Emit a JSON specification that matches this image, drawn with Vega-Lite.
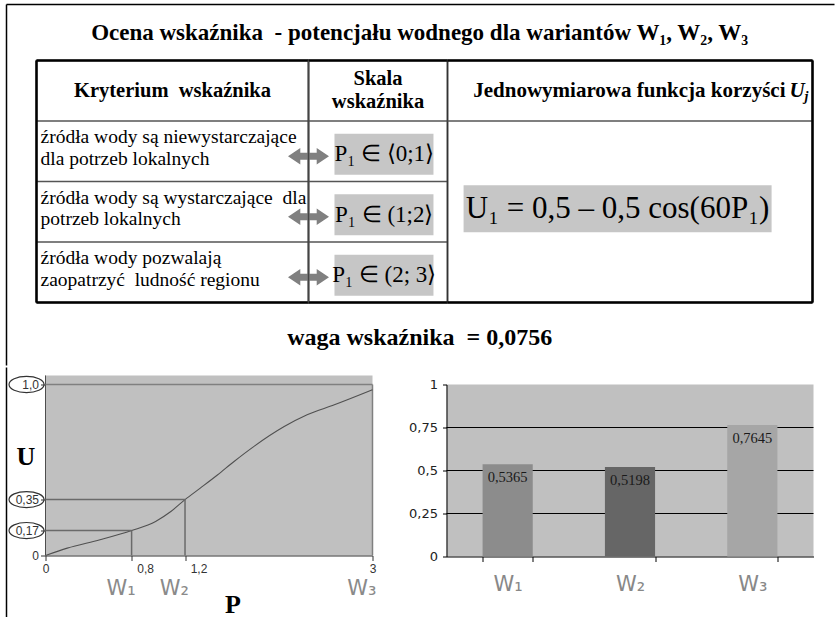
{
  "$schema": "https://vega.github.io/schema/vega-lite/v6.json",
  "padding": {"left": 5.5, "top": 3.5, "right": 0, "bottom": 0},
  "background": "white",
  "spacing": 0,
  "resolve": {"scale": {"x": "independent", "y": "independent", "color": "independent"}},
  "config": {
    "view": {"stroke": null},
    "locale": {"number": {"decimal": ",", "thousands": " ", "grouping": [3], "currency": ["", " zł"]}},
    "text": {"font": "Liberation Serif", "color": "#000"}
  },
  "datasets": {
    "table": [
      {"col": 1, "row": "h", "text": "Kryterium\u00a0 wskaźnika"},
      {"col": 1, "row": "r1", "text": "źródła wody są niewystarczające\ndla potrzeb lokalnych"},
      {"col": 1, "row": "r2", "text": "źródła wody są wystarczające\u00a0 dla\npotrzeb lokalnych"},
      {"col": 1, "row": "r3", "text": "źródła wody pozwalają\nzaopatrzyć\u00a0 ludność regionu"},
      {"col": 2, "row": "h", "text": "Skala\nwskaźnika"},
      {"col": 2, "row": "r1", "text": "P₁ ∈ ⟨0;1⟩"},
      {"col": 2, "row": "r2", "text": "P₁ ∈ (1;2⟩"},
      {"col": 2, "row": "r3", "text": "P₁ ∈ (2; 3⟩"},
      {"col": 3, "row": "h", "text": "Jednowymiarowa funkcja korzyści"},
      {"col": 3, "row": "r2", "text": "U₁ = 0,5 – 0,5 cos(60P₁)"}
    ],
    "curve": [
      {"p": 0, "u": 0}, {"p": 0.2, "u": 0.043}, {"p": 0.5, "u": 0.092}, {"p": 0.79, "u": 0.146},
      {"p": 1.01, "u": 0.199}, {"p": 1.15, "u": 0.257}, {"p": 1.28, "u": 0.327}, {"p": 1.42, "u": 0.394},
      {"p": 1.58, "u": 0.472}, {"p": 1.73, "u": 0.55}, {"p": 1.91, "u": 0.637}, {"p": 2.19, "u": 0.754},
      {"p": 2.4, "u": 0.823}, {"p": 2.65, "u": 0.881}, {"p": 3, "u": 0.969}
    ],
    "guides": [{"p": 0.79, "u": 0.146, "label": "0,8"}, {"p": 1.28, "u": 0.327, "label": "1,2"}],
    "ellipses": [{"u": 0.146}, {"u": 0.327}, {"u": 1}],
    "wlabels": [{"w": "W₁", "p": 0.79}, {"w": "W₂", "p": 1.28}, {"w": "W₃", "p": 3}],
    "bars": [{"w": "W₁", "u": 0.5365}, {"w": "W₂", "u": 0.5198}, {"w": "W₃", "u": 0.7645}],
    "gridvals": [{"v": 0.25}, {"v": 0.5}, {"v": 0.75}]
  },
  "vconcat": [
    {
      "spacing": 0,
      "bounds": "flush",
      "resolve": {"scale": {"x": "independent", "y": "independent"}},
      "hconcat": [
        {
          "width": 30, "height": 242,
          "data": {"values": [{}]},
          "layer": [
            {"mark": {"type": "rule", "color": "#000", "strokeWidth": 1.5},
             "encoding": {
               "x": {"datum": 0, "type": "quantitative", "scale": {"domain": [0, 1], "nice": false, "zero": false}, "axis": null},
               "y": {"datum": 1.2314, "type": "quantitative", "scale": {"domain": [0, 1], "nice": false, "zero": false}, "axis": null},
               "y2": {"datum": -0.2603}}},
            {"mark": {"type": "rule", "color": "#000", "strokeWidth": 1.5},
             "encoding": {
               "x": {"datum": 0, "type": "quantitative", "axis": null},
               "x2": {"datum": 27.6},
               "y": {"datum": 1.2314, "type": "quantitative", "axis": null}}}
          ]
        },
        {
          "width": 272, "height": 242,
          "view": {"stroke": "#333", "strokeWidth": 1.5},
          "data": {"name": "table"},
          "layer": [
            {"transform": [{"filter": "datum.col == 1 && datum.row != 'h'"}],
             "mark": {"type": "rule", "color": "#555", "strokeWidth": 1.5},
             "encoding": {
               "x": {"datum": 0, "type": "quantitative", "scale": {"domain": [0, 1], "nice": false, "zero": false}, "axis": null},
               "x2": {"datum": 1},
               "y": {"field": "row", "type": "nominal", "bandPosition": 0, "scale": {"domain": ["h", "r1", "r2", "r3"], "paddingInner": 0, "paddingOuter": 0}, "axis": null}}},
            {"transform": [{"filter": "datum.col == 1 && datum.row == 'h'"}],
             "mark": {"type": "rule", "color": "#000", "strokeWidth": 2.5},
             "encoding": {"x": {"datum": 0, "type": "quantitative", "axis": null}, "x2": {"datum": 1}, "y": {"field": "row", "type": "nominal", "bandPosition": 0, "axis": null}}},
            {"transform": [{"filter": "datum.col == 1 && datum.row == 'r3'"}],
             "mark": {"type": "rule", "color": "#000", "strokeWidth": 2.5},
             "encoding": {"x": {"datum": 0, "type": "quantitative", "axis": null}, "x2": {"datum": 1}, "y": {"field": "row", "type": "nominal", "bandPosition": 1, "axis": null}}},
            {"transform": [{"filter": "datum.col == 1 && datum.row == 'h'"}],
             "mark": {"type": "rule", "color": "#000", "strokeWidth": 2.5},
             "encoding": {"x": {"datum": 0, "type": "quantitative", "axis": null}}},
            {"transform": [{"filter": "datum.col == 1 && datum.row == 'h'"}],
             "mark": {"type": "text", "font": "Liberation Serif", "fontSize": 20.5, "fontWeight": "bold", "baseline": "middle", "align": "center"},
             "encoding": {"x": {"datum": 0.5, "type": "quantitative", "axis": null}, "y": {"field": "row", "type": "nominal", "axis": null}, "text": {"field": "text"}}},
            {"transform": [{"filter": "datum.col == 1 && datum.row != 'h'"}],
             "mark": {"type": "text", "font": "Liberation Serif", "fontSize": 19.5, "baseline": "middle", "align": "left", "dx": 4, "dy": 16, "lineBreak": "\n", "lineHeight": 21.5},
             "encoding": {"x": {"datum": 0, "type": "quantitative", "axis": null}, "y": {"field": "row", "type": "nominal", "bandPosition": 0, "axis": null}, "text": {"field": "text"}}}
          ]
        },
        {
          "width": 139, "height": 242,
          "view": {"stroke": "#333", "strokeWidth": 1.5},
          "data": {"name": "table"},
          "layer": [
            {"transform": [{"filter": "datum.col == 2 && datum.row != 'h'"}],
             "mark": {"type": "rule", "color": "#555", "strokeWidth": 1.5},
             "encoding": {
               "x": {"datum": 0, "type": "quantitative", "scale": {"domain": [0, 1], "nice": false, "zero": false}, "axis": null},
               "x2": {"datum": 1},
               "y": {"field": "row", "type": "nominal", "bandPosition": 0, "scale": {"domain": ["h", "r1", "r2", "r3"], "paddingInner": 0, "paddingOuter": 0}, "axis": null}}},
            {"transform": [{"filter": "datum.col == 2 && datum.row == 'h'"}],
             "mark": {"type": "rule", "color": "#000", "strokeWidth": 2.5},
             "encoding": {"x": {"datum": 0, "type": "quantitative", "axis": null}, "x2": {"datum": 1}, "y": {"field": "row", "type": "nominal", "bandPosition": 0, "axis": null}}},
            {"transform": [{"filter": "datum.col == 2 && datum.row == 'r3'"}],
             "mark": {"type": "rule", "color": "#000", "strokeWidth": 2.5},
             "encoding": {"x": {"datum": 0, "type": "quantitative", "axis": null}, "x2": {"datum": 1}, "y": {"field": "row", "type": "nominal", "bandPosition": 1, "axis": null}}},
            {"transform": [{"filter": "datum.col == 2 && datum.row != 'h'"}],
             "mark": {"type": "point", "shape": "M-1,-0.414L1,-0.414L1,0.414L-1,0.414Z", "size": 9801, "filled": true, "color": "#c6c6c6", "opacity": 1, "yOffset": 3},
             "encoding": {"x": {"datum": 0.543, "type": "quantitative", "axis": null}, "y": {"field": "row", "type": "nominal", "axis": null}}},
            {"transform": [{"filter": "datum.col == 2 && datum.row != 'h'"}],
             "mark": {"type": "text", "font": "Liberation Serif", "fontSize": 23, "baseline": "middle", "align": "center", "dy": 3},
             "encoding": {"x": {"datum": 0.545, "type": "quantitative", "axis": null}, "y": {"field": "row", "type": "nominal", "axis": null}, "text": {"field": "text"}}},
            {"transform": [{"filter": "datum.col == 2 && datum.row != 'h'"}],
             "mark": {"type": "point", "shape": "M-1,0L-0.4,-0.4L-0.4,-0.17L0.4,-0.17L0.4,-0.4L1,0L0.4,0.4L0.4,0.17L-0.4,0.17L-0.4,0.4Z", "size": 1681, "filled": true, "color": "#808080", "opacity": 1, "yOffset": 5},
             "encoding": {"x": {"datum": 0, "type": "quantitative", "axis": null}, "y": {"field": "row", "type": "nominal", "axis": null}}},
            {"transform": [{"filter": "datum.col == 2 && datum.row == 'h'"}],
             "mark": {"type": "rule", "color": "#444", "strokeWidth": 1.5},
             "encoding": {"x": {"datum": 0, "type": "quantitative", "axis": null}}},
            {"transform": [{"filter": "datum.col == 2 && datum.row == 'h'"}],
             "mark": {"type": "text", "font": "Liberation Serif", "fontSize": 20.5, "fontWeight": "bold", "baseline": "middle", "align": "center", "lineBreak": "\n", "lineHeight": 23, "dy": -12},
             "encoding": {"x": {"datum": 0.5, "type": "quantitative", "axis": null}, "y": {"field": "row", "type": "nominal", "axis": null}, "text": {"field": "text"}}},
            {"transform": [{"filter": "datum.col == 2 && datum.row == 'h'"}],
             "mark": {"type": "text", "font": "Liberation Serif", "fontSize": 23, "fontWeight": "bold", "baseline": "middle", "align": "center", "dy": -28},
             "encoding": {"x": {"datum": 0.8, "type": "quantitative", "axis": null}, "y": {"field": "row", "type": "nominal", "bandPosition": 0, "axis": null}, "text": {"value": "Ocena wskaźnika\u00a0 - potencjału wodnego dla wariantów W₁, W₂, W₃"}}},
            {"transform": [{"filter": "datum.col == 2 && datum.row == 'r3'"}],
             "mark": {"type": "text", "font": "Liberation Serif", "fontSize": 24, "fontWeight": "bold", "baseline": "middle", "align": "center", "dy": 35},
             "encoding": {"x": {"datum": 0.8, "type": "quantitative", "axis": null}, "y": {"field": "row", "type": "nominal", "bandPosition": 1, "axis": null}, "text": {"value": "waga wskaźnika\u00a0 = 0,0756"}}}
          ]
        },
        {
          "width": 365, "height": 242,
          "view": {"stroke": "#333", "strokeWidth": 1.5},
          "data": {"name": "table"},
          "layer": [
            {"transform": [{"filter": "datum.col == 3 && datum.row == 'r2'"}],
             "mark": {"type": "rule", "color": "#555", "strokeWidth": 1.5},
             "encoding": {
               "x": {"datum": 0, "type": "quantitative", "scale": {"domain": [0, 1], "nice": false, "zero": false}, "axis": null},
               "x2": {"datum": 1},
               "y": {"datum": "r1", "type": "nominal", "scale": {"domain": ["h", "r1", "r2", "r3"], "paddingInner": 0, "paddingOuter": 0}, "axis": null, "bandPosition": 0}}},
            {"transform": [{"filter": "datum.col == 3 && datum.row == 'h'"}],
             "mark": {"type": "rule", "color": "#000", "strokeWidth": 2.5},
             "encoding": {"x": {"datum": 0, "type": "quantitative", "axis": null}, "x2": {"datum": 1}, "y": {"field": "row", "type": "nominal", "bandPosition": 0, "axis": null}}},
            {"transform": [{"filter": "datum.col == 3 && datum.row == 'h'"}],
             "mark": {"type": "rule", "color": "#000", "strokeWidth": 2.5},
             "encoding": {"x": {"datum": 0, "type": "quantitative", "axis": null}, "x2": {"datum": 1}, "y": {"datum": "r3", "type": "nominal", "bandPosition": 1, "axis": null}}},
            {"transform": [{"filter": "datum.col == 3 && datum.row == 'h'"}],
             "mark": {"type": "rule", "color": "#000", "strokeWidth": 2.5},
             "encoding": {"x": {"datum": 1, "type": "quantitative", "axis": null}}},
            {"transform": [{"filter": "datum.col == 3 && datum.row == 'h'"}],
             "mark": {"type": "text", "font": "Liberation Serif", "fontSize": 21, "fontWeight": "bold", "baseline": "middle", "align": "right"},
             "encoding": {"x": {"datum": 0.926, "type": "quantitative", "axis": null}, "y": {"field": "row", "type": "nominal", "axis": null}, "text": {"field": "text"}}},
            {"transform": [{"filter": "datum.col == 3 && datum.row == 'h'"}],
             "mark": {"type": "text", "font": "Liberation Serif", "fontSize": 21, "fontWeight": "bold", "fontStyle": "italic", "baseline": "middle", "align": "left", "dx": 4},
             "encoding": {"x": {"datum": 0.926, "type": "quantitative", "axis": null}, "y": {"field": "row", "type": "nominal", "axis": null}, "text": {"value": "U"}}},
            {"transform": [{"filter": "datum.col == 3 && datum.row == 'h'"}],
             "mark": {"type": "text", "font": "Liberation Serif", "fontSize": 14, "fontWeight": "bold", "fontStyle": "italic", "baseline": "middle", "align": "left", "dx": 19, "dy": 6},
             "encoding": {"x": {"datum": 0.926, "type": "quantitative", "axis": null}, "y": {"field": "row", "type": "nominal", "axis": null}, "text": {"value": "j"}}},
            {"transform": [{"filter": "datum.col == 3 && datum.row == 'r2'"}],
             "mark": {"type": "point", "shape": "M-1,-0.1526L1,-0.1526L1,0.1526L-1,0.1526Z", "size": 94864, "filled": true, "color": "#c6c6c6", "opacity": 1, "yOffset": -3},
             "encoding": {"x": {"datum": 0.466, "type": "quantitative", "axis": null}, "y": {"field": "row", "type": "nominal", "axis": null}}},
            {"transform": [{"filter": "datum.col == 3 && datum.row == 'r2'"}],
             "mark": {"type": "text", "font": "Liberation Serif", "fontSize": 31, "baseline": "middle", "align": "center", "dy": -3},
             "encoding": {"x": {"datum": 0.466, "type": "quantitative", "axis": null}, "y": {"field": "row", "type": "nominal", "axis": null}, "text": {"field": "text"}}}
          ]
        }
      ]
    },
    {
      "spacing": 0,
      "bounds": "flush",
      "resolve": {"scale": {"x": "independent", "y": "independent", "color": "independent"}},
      "hconcat": [
        {
          "width": 39, "height": 171,
          "data": {"values": [{}]},
          "mark": {"type": "rule", "color": "#000", "strokeWidth": 1.5},
          "encoding": {
            "x": {"datum": 0, "type": "quantitative", "scale": {"domain": [0, 1], "nice": false, "zero": false}, "axis": null},
            "y": {"datum": 1.0994, "type": "quantitative", "scale": {"domain": [0, 1], "nice": false, "zero": false}, "axis": null},
            "y2": {"datum": -0.3596}}
        },
        {
          "width": 327, "height": 171,
          "view": {"fill": "#c0c0c0", "stroke": null},
          "layer": [
            {"data": {"values": [{}]}, "mark": {"type": "rect", "color": "#c0c0c0"},
             "encoding": {
               "x": {"datum": 0, "type": "quantitative", "scale": {"domain": [0, 3], "nice": false, "zero": false},
                     "axis": {"values": [0, 0.79, 1.28, 3], "labelExpr": "datum.value == 0 ? '0' : datum.value > 2 ? '3' : ''",
                              "domain": true, "domainColor": "#333", "ticks": true, "tickSize": 5, "tickColor": "#333", "grid": false,
                              "labelFont": "Liberation Sans", "labelFontSize": 12, "labelColor": "#333", "labelPadding": 3, "labelFlush": false, "labelOverlap": false, "labelBound": false,
                              "title": "P", "titleX": 187, "titleY": 49, "titleFont": "Liberation Serif", "titleFontSize": 26, "titleFontWeight": "bold", "titleColor": "#000", "titleBaseline": "middle", "titleAlign": "center"}},
               "x2": {"datum": 3},
               "y": {"datum": 1, "type": "quantitative", "scale": {"domain": [0, 1], "nice": false, "zero": false},
                     "axis": {"values": [0, 0.146, 0.327, 1], "labelExpr": "datum.value == 0 ? '0' : datum.value < 0.2 ? '0,17' : datum.value < 0.5 ? '0,35' : '1,0'",
                              "domain": false, "ticks": true, "tickSize": 5, "tickColor": "#333", "grid": false,
                              "labelFont": "Liberation Sans", "labelFontSize": 12, "labelColor": "#333", "labelPadding": 2, "labelOverlap": false, "labelBound": false,
                              "title": "U", "titleAngle": 0, "titleX": -20, "titleY": 72, "titleFont": "Liberation Serif", "titleFontSize": 26, "titleFontWeight": "bold", "titleColor": "#000", "titleBaseline": "middle", "titleAlign": "center"}},
               "y2": {"datum": 1.053}
             }},
            {"data": {"values": [{}]}, "mark": {"type": "rule", "color": "#4d4d4d", "strokeWidth": 1},
             "encoding": {"x": {"datum": 0, "type": "quantitative"}, "y": {"datum": 0, "type": "quantitative"}, "y2": {"datum": 1.053}}},
            {"data": {"values": [{}]}, "mark": {"type": "rule", "color": "#808080", "strokeWidth": 1.5},
             "encoding": {"x": {"datum": 0, "type": "quantitative"}, "x2": {"datum": 3}, "y": {"datum": 1, "type": "quantitative"}}},
            {"data": {"values": [{}]}, "mark": {"type": "rule", "color": "#808080", "strokeWidth": 1.5},
             "encoding": {"x": {"datum": 3, "type": "quantitative"}, "y": {"datum": 0, "type": "quantitative"}, "y2": {"datum": 1}}},
            {"data": {"name": "curve"}, "mark": {"type": "line", "color": "#505050", "strokeWidth": 1.1, "interpolate": "monotone"},
             "encoding": {"x": {"field": "p", "type": "quantitative"}, "y": {"field": "u", "type": "quantitative"}}},
            {"data": {"name": "guides"}, "mark": {"type": "rule", "color": "#6a6a6a", "strokeWidth": 1.5},
             "encoding": {"x": {"field": "p", "type": "quantitative"}, "y": {"field": "u", "type": "quantitative"}, "y2": {"datum": 0}}},
            {"data": {"name": "guides"}, "mark": {"type": "rule", "color": "#6a6a6a", "strokeWidth": 1.5},
             "encoding": {"x": {"field": "p", "type": "quantitative"}, "x2": {"datum": 0}, "y": {"field": "u", "type": "quantitative"}}},
            {"data": {"name": "guides"}, "mark": {"type": "text", "font": "Liberation Sans", "fontSize": 12, "color": "#333", "align": "center", "baseline": "middle", "dx": 14, "dy": 13},
             "encoding": {"x": {"field": "p", "type": "quantitative"}, "y": {"datum": 0, "type": "quantitative"}, "text": {"field": "label"}}},
            {"data": {"name": "ellipses"},
             "mark": {"type": "point", "shape": "M-1,0C-1,-0.254,-0.552,-0.46,0,-0.46C0.552,-0.46,1,-0.254,1,0C1,0.254,0.552,0.46,0,0.46C-0.552,0.46,-1,0.254,-1,0Z", "size": 1225, "filled": false, "stroke": "#333", "strokeWidth": 1.2, "opacity": 1},
             "encoding": {"x": {"datum": -0.174, "type": "quantitative"}, "y": {"field": "u", "type": "quantitative"}}},
            {"data": {"name": "wlabels"},
             "mark": {"type": "text", "font": "DejaVu Sans", "fontSize": 21, "color": "#8a8a8a", "align": "right", "baseline": "middle", "dx": 4, "dy": 33},
             "encoding": {"x": {"field": "p", "type": "quantitative"}, "y": {"datum": 0, "type": "quantitative"}, "text": {"field": "w"}}}
          ]
        },
        {
          "width": 74, "height": 1,
          "data": {"values": [{}]},
          "mark": {"type": "text"},
          "encoding": {"text": {"value": ""}}
        },
        {
          "width": 367, "height": 172,
          "view": {"fill": "#c0c0c0", "stroke": null},
          "layer": [
            {"data": {"name": "gridvals"}, "mark": {"type": "rule", "color": "#000", "strokeWidth": 1},
             "encoding": {"y": {"field": "v", "type": "quantitative", "scale": {"domain": [0, 1], "nice": false},
                     "axis": {"values": [0, 0.25, 0.5, 0.75, 1], "format": ".2~f", "grid": false,
                              "domain": true, "domainColor": "#000", "ticks": true, "tickSize": 4, "tickColor": "#000", "labelFont": "DejaVu Sans", "labelFontSize": 13, "labelColor": "#222", "labelPadding": 5, "title": null}}}},
            {"data": {"name": "bars"}, "mark": {"type": "bar"},
             "encoding": {
               "x": {"field": "w", "type": "nominal", "sort": null, "scale": {"paddingInner": 0.59, "paddingOuter": 0.295},
                     "axis": {"tickBand": "extent", "domainColor": "#000", "tickColor": "#000", "tickSize": 5, "labelAngle": 0, "labelFont": "DejaVu Sans", "labelFontSize": 21, "labelColor": "#888", "labelPadding": 12, "title": null, "grid": false}},
               "y": {"field": "u", "type": "quantitative"},
               "color": {"field": "w", "type": "nominal", "sort": null, "scale": {"range": ["#8c8c8c", "#666666", "#a6a6a6"]}, "legend": null}
             }},
            {"data": {"name": "bars"}, "mark": {"type": "text", "dy": 14, "baseline": "middle", "align": "center", "font": "Liberation Serif", "fontSize": 14.5, "color": "#1a1a1a"},
             "encoding": {
               "x": {"field": "w", "type": "nominal", "sort": null},
               "y": {"field": "u", "type": "quantitative"},
               "text": {"field": "u", "type": "quantitative", "format": ".4f"}
             }}
          ]
        }
      ]
    }
  ]
}
